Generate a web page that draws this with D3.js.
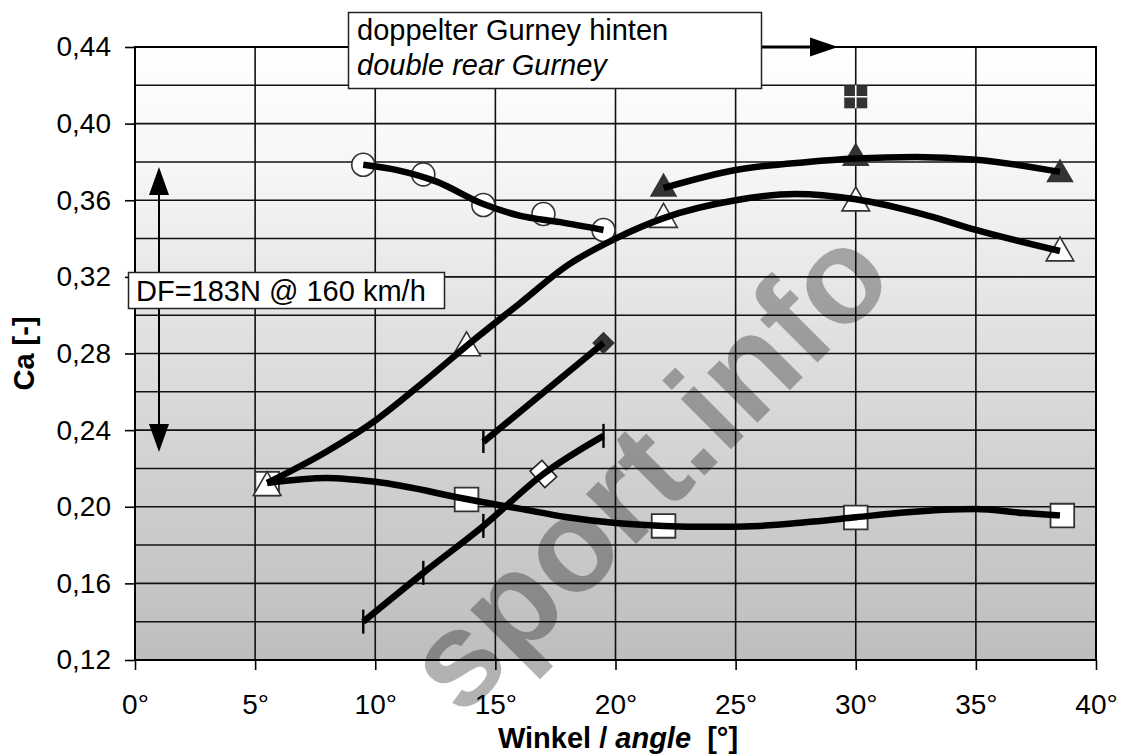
<!DOCTYPE html>
<html>
<head>
<meta charset="utf-8">
<script src="https://cdn.jsdelivr.net/npm/d3@7"></script>
<style>
	body { margin: 0; background: #fff; }
	svg { display: block; font-family: Arial, "Liberation Sans", sans-serif; }
</style>
</head>
<body>
<div id="chart"></div>
<script>
// values: [angle in degrees, Ca]
const circlePoints = [[9.5, 0.3785], [12, 0.3735], [14.5, 0.3575], [17, 0.3528], [19.5, 0.3445]];
const circleTrend = [[9.5, 0.3785], [11, 0.3755], [12.5, 0.370], [14.5, 0.358], [16, 0.352], [17.7, 0.3486], [19.5, 0.3445]];

const openTriPoints = [[5.5, 0.210], [13.8, 0.283], [22, 0.350], [30, 0.3586], [38.5, 0.3325]];
const openTriTrend = [[5.5, 0.2124], [8, 0.229], [10, 0.245], [12, 0.265], [14, 0.286], [16, 0.306],
	[18, 0.326], [20, 0.340], [22, 0.3507], [25, 0.360], [27.5, 0.3633], [30, 0.3605],
	[33, 0.352], [35, 0.3445], [38.5, 0.3335]];

const fullTriPoints = [[22, 0.3660], [30, 0.382], [38.5, 0.3735]];
const fullTriTrend = [[22, 0.3664], [25, 0.3758], [28, 0.3800], [30, 0.3818], [32.5, 0.3826], [35, 0.3812], [38.5, 0.3748]];

const squarePoints = [[5.5, 0.212], [13.8, 0.2038], [22, 0.190], [30, 0.1944], [38.6, 0.1954]];
const squareTrend = [[5.5, 0.2124], [8, 0.215], [10, 0.213], [14, 0.2035], [16, 0.199], [18, 0.1945],
	[20, 0.1915], [22, 0.1900], [24, 0.1895], [26, 0.1900], [28, 0.192], [30, 0.1945],
	[32, 0.197], [35, 0.1988], [37, 0.1967], [38.5, 0.1955]];

const gurneyPoint = [30, 0.414];

const upperTickLine = [[14.5, 0.2338], [19.5, 0.2855]];
const lowerTickLine = [[9.5, 0.140], [12, 0.1655], [14.5, 0.190], [17, 0.2171], [19.5, 0.237]];
const lowerTickMarks = [9.5, 12, 14.5, 19.5];
const openDiamondAt = 17;

const xTicks = [0, 5, 10, 15, 20, 25, 30, 35, 40];
const yTicks = [0.12, 0.16, 0.20, 0.24, 0.28, 0.32, 0.36, 0.40, 0.44];
const yGrid = d3.range(0.14, 0.43, 0.02);

const noteLines = ['doppelter Gurney hinten', 'double rear Gurney'];
const dfNote = 'DF=183N @ 160 km/h';
const dfRange = [0.3774, 0.2286];

const width = 1122;
const height = 756;

const x = d3.scaleLinear().domain([0, 40]).range([135, 1096]);
const y = d3.scaleLinear().domain([0.12, 0.44]).range([660, 47]);

const svg = d3.select('#chart').append('svg')
	.attr('width', width)
	.attr('height', height);

const defs = svg.append('defs');
const grad = defs.append('linearGradient')
	.attr('id', 'bg')
	.attr('x1', 0).attr('y1', 0).attr('x2', 0).attr('y2', 1);
[[0, '#ffffff'], [0.2, '#f6f6f6'], [0.45, '#e2e2e2'], [0.75, '#cdcdcd'], [1, '#bebebe']]
	.forEach(s => grad.append('stop').attr('offset', s[0]).attr('stop-color', s[1]));

// plot background
svg.append('rect')
	.attr('x', x(0)).attr('y', y(0.44))
	.attr('width', x(40) - x(0)).attr('height', y(0.12) - y(0.44))
	.attr('fill', 'url(#bg)');

// grid
const grid = svg.append('g').attr('stroke', '#111').attr('stroke-width', 1.6);
grid.selectAll('line.v')
	.data(xTicks.slice(1, -1))
	.join('line')
	.attr('class', 'v')
	.attr('x1', d => x(d)).attr('x2', d => x(d))
	.attr('y1', y(0.44)).attr('y2', y(0.12));
grid.selectAll('line.h')
	.data(yGrid)
	.join('line')
	.attr('class', 'h')
	.attr('x1', x(0)).attr('x2', x(40))
	.attr('y1', d => y(d)).attr('y2', d => y(d));

// axes
const fmt = d3.format('.2f');
const yAxis = svg.append('g')
	.attr('transform', `translate(${x(0)},0)`)
	.call(d3.axisLeft(y).tickValues(yTicks).tickSize(10).tickPadding(14)
		.tickFormat(d => fmt(d).replace('.', ',')));
const xAxis = svg.append('g')
	.attr('transform', `translate(0,${y(0.12)})`)
	.call(d3.axisBottom(x).tickValues(xTicks).tickSize(10).tickPadding(24)
		.tickFormat(d => d + '°'));
[yAxis, xAxis].forEach(a => {
	a.select('.domain').remove();
	a.selectAll('.tick line').attr('stroke', '#000').attr('stroke-width', 1.6);
	a.selectAll('.tick text')
		.attr('font-size', 28)
		.attr('font-family', 'Arial, "Liberation Sans", sans-serif')
		.attr('fill', '#000');
});

// frame
svg.append('rect')
	.attr('x', x(0)).attr('y', y(0.44))
	.attr('width', x(40) - x(0)).attr('height', y(0.12) - y(0.44))
	.attr('fill', 'none')
	.attr('stroke', '#000')
	.attr('stroke-width', 2);

// axis titles
svg.append('text')
	.attr('transform', `translate(34,${(y(0.12) + y(0.44)) / 2}) rotate(-90)`)
	.attr('text-anchor', 'middle')
	.attr('font-size', 29)
	.attr('font-weight', 'bold')
	.text('Ca [-]');

const xTitle = svg.append('text')
	.attr('x', 618).attr('y', 748)
	.attr('text-anchor', 'middle')
	.attr('font-size', 29)
	.attr('font-weight', 'bold');
xTitle.append('tspan').text('Winkel / ');
xTitle.append('tspan').attr('font-style', 'italic').text('angle');
xTitle.append('tspan').text('\u00a0 [°]');

// markers
const marks = svg.append('g');
const sym = (type, size) => d3.symbol().type(type).size(size)();

marks.selectAll('path.sq')
	.data(squarePoints)
	.join('path')
	.attr('class', 'sq')
	.attr('d', sym(d3.symbolSquare, 560))
	.attr('transform', d => `translate(${x(d[0])},${y(d[1])})`)
	.attr('fill', '#fff').attr('stroke', '#333').attr('stroke-width', 1.8);

marks.selectAll('path.circ')
	.data(circlePoints)
	.join('path')
	.attr('class', 'circ')
	.attr('d', sym(d3.symbolCircle, 415))
	.attr('transform', d => `translate(${x(d[0])},${y(d[1])})`)
	.attr('fill', '#fff').attr('stroke', '#333').attr('stroke-width', 1.6);

marks.selectAll('path.otri')
	.data(openTriPoints)
	.join('path')
	.attr('class', 'otri')
	.attr('d', sym(d3.symbolTriangle, 330))
	.attr('transform', d => `translate(${x(d[0])},${y(d[1])})`)
	.attr('fill', '#fff').attr('stroke', '#333').attr('stroke-width', 1.6);

marks.selectAll('path.ftri')
	.data(fullTriPoints)
	.join('path')
	.attr('class', 'ftri')
	.attr('d', sym(d3.symbolTriangle, 330))
	.attr('transform', d => `translate(${x(d[0])},${y(d[1])})`)
	.attr('fill', '#333');

const gp = marks.append('g')
	.attr('transform', `translate(${x(gurneyPoint[0])},${y(gurneyPoint[1])})`);
gp.append('rect').attr('x', -11.5).attr('y', -11.5).attr('width', 23).attr('height', 23).attr('fill', '#333');
gp.append('path').attr('d', 'M-11.5,0H11.5M0,-11.5V11.5').attr('stroke', '#fff').attr('stroke-width', 1.6);

// trend lines
const line = d3.line()
	.x(d => x(d[0]))
	.y(d => y(d[1]))
	.curve(d3.curveMonotoneX);

const lines = svg.append('g')
	.attr('fill', 'none')
	.attr('stroke', '#000')
	.attr('stroke-linejoin', 'round');

[circleTrend, openTriTrend, fullTriTrend, squareTrend].forEach(t => {
	lines.append('path').attr('d', line(t)).attr('stroke-width', 6.5);
});

// upper line: tick at start, dark diamond at end
lines.append('path').attr('d', line(upperTickLine)).attr('stroke-width', 6.5);
marks.append('path')
	.attr('d', sym(d3.symbolSquare, 256))
	.attr('transform', `translate(${x(upperTickLine[1][0])},${y(upperTickLine[1][1])}) rotate(45)`)
	.attr('fill', '#333');
svg.append('line')
	.attr('x1', x(upperTickLine[0][0])).attr('x2', x(upperTickLine[0][0]))
	.attr('y1', y(upperTickLine[0][1]) - 12).attr('y2', y(upperTickLine[0][1]) + 11)
	.attr('stroke', '#000').attr('stroke-width', 2.4);

// lower line: ticks and an open diamond
const lowerFor = v => lowerTickLine.find(d => d[0] === v)[1];
const od = lowerFor(openDiamondAt);
marks.append('rect')
	.attr('x', -8).attr('y', -11).attr('width', 16).attr('height', 22)
	.attr('transform', `translate(${x(openDiamondAt)},${y(od)}) rotate(-42)`)
	.attr('fill', '#fff').attr('stroke', '#222').attr('stroke-width', 1.6);
lines.append('path').attr('d', line(lowerTickLine)).attr('stroke-width', 6.5);
svg.append('g').selectAll('line')
	.data(lowerTickMarks)
	.join('line')
	.attr('x1', d => x(d)).attr('x2', d => x(d))
	.attr('y1', d => y(lowerFor(d)) - 12).attr('y2', d => y(lowerFor(d)) + 12)
	.attr('stroke', '#000').attr('stroke-width', 2.4);

// annotations
const note = svg.append('g');
note.append('line')
	.attr('x1', 762).attr('x2', 815).attr('y1', y(0.44)).attr('y2', y(0.44))
	.attr('stroke', '#000').attr('stroke-width', 3);
note.append('path')
	.attr('d', `M810,${y(0.44) - 9.5}L838,${y(0.44)}L810,${y(0.44) + 9.5}Z`)
	.attr('fill', '#000');
note.append('rect')
	.attr('x', 348.5).attr('y', 12.5).attr('width', 413).attr('height', 76)
	.attr('fill', '#fff').attr('stroke', '#222').attr('stroke-width', 1.5);
note.selectAll('text')
	.data(noteLines)
	.join('text')
	.attr('x', 357)
	.attr('y', (d, i) => 40 + i * 35)
	.attr('font-size', 29)
	.attr('font-style', (d, i) => i ? 'italic' : 'normal')
	.text(d => d);

const dfX = 159;
const df = svg.append('g');
df.append('line')
	.attr('x1', dfX).attr('x2', dfX)
	.attr('y1', y(dfRange[0]) + 20).attr('y2', y(dfRange[1]) - 20)
	.attr('stroke', '#000').attr('stroke-width', 2);
df.append('path')
	.attr('d', `M${dfX},${y(dfRange[0])}l-10,28h20Z M${dfX},${y(dfRange[1])}l-10,-28h20Z`)
	.attr('fill', '#000');
df.append('rect')
	.attr('x', 128.5).attr('y', 272.5).attr('width', 316).attr('height', 36)
	.attr('fill', '#fff').attr('stroke', '#222').attr('stroke-width', 1.5);
df.append('text')
	.attr('x', 136).attr('y', 301)
	.attr('font-size', 29)
	.text(dfNote);

// watermark
svg.append('text')
	.attr('transform', 'translate(898,282) rotate(-45)')
	.attr('text-anchor', 'end')
	.attr('font-size', 134)
	.attr('font-weight', 'bold')
	.attr('fill', '#000')
	.attr('fill-opacity', 0.3)
	.text('sport.info');
</script>
</body>
</html>
